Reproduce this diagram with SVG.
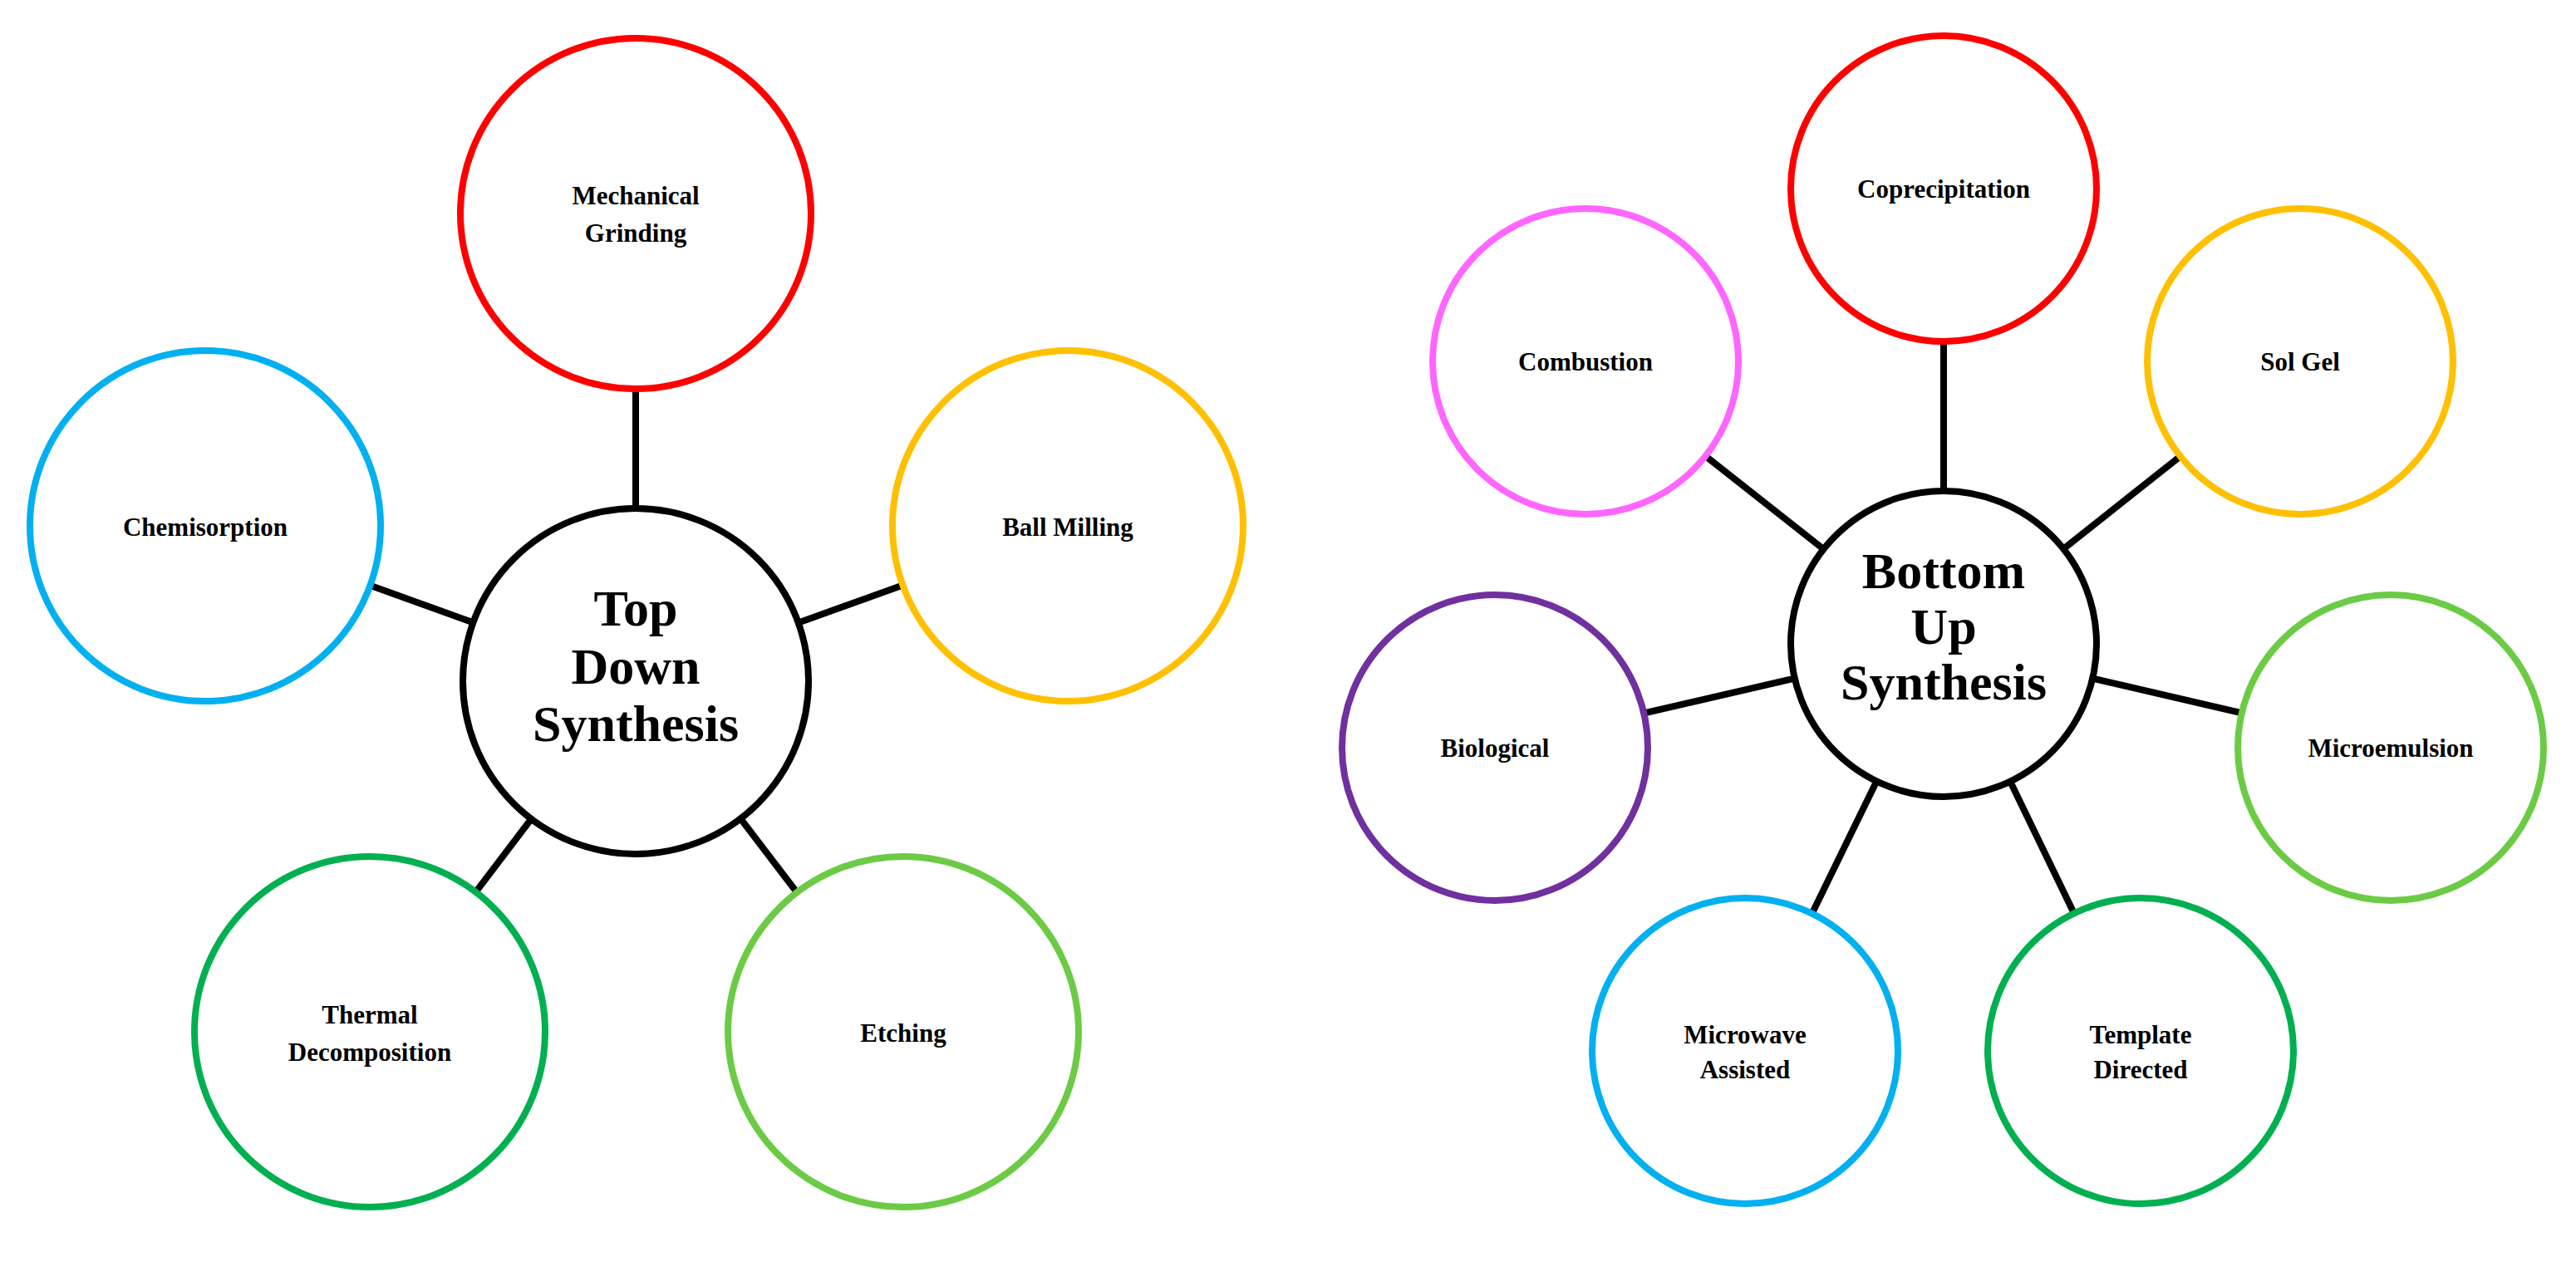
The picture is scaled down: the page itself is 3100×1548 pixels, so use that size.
<svg xmlns="http://www.w3.org/2000/svg" width="3100" height="1548" viewBox="0 0 3100 1548">
<style>
.c{fill:#fff;stroke-width:8}
.ln line{stroke:#000;stroke-width:8}
text{font-family:"Liberation Serif","Times New Roman",serif;font-weight:bold;text-anchor:middle;fill:#000}
.s{font-size:31px}
.b{font-size:62px}
</style>
<rect width="3100" height="1548" fill="#fff"/>
<g class="ln" id="connectors">
<line x1="765" y1="820" x2="765" y2="257"/>
<line x1="765" y1="820" x2="247" y2="633"/>
<line x1="765" y1="820" x2="1285" y2="633"/>
<line x1="765" y1="820" x2="445" y2="1242"/>
<line x1="765" y1="820" x2="1087" y2="1242"/>
<line x1="2339" y1="775" x2="2339" y2="227"/>
<line x1="2339" y1="775" x2="1908" y2="435"/>
<line x1="2339" y1="775" x2="2768" y2="435"/>
<line x1="2339" y1="775" x2="1799" y2="900"/>
<line x1="2339" y1="775" x2="2877" y2="900"/>
<line x1="2339" y1="775" x2="2100" y2="1265"/>
<line x1="2339" y1="775" x2="2576" y2="1265"/>
</g>
<g id="topdown"><circle class="c" cx="765" cy="820" r="208" stroke="#000"/><text class="b" x="765" y="753">Top</text><text class="b" x="765" y="823">Down</text><text class="b" x="765" y="892">Synthesis</text></g>
<g id="mech"><circle class="c" cx="765" cy="257" r="211" stroke="#FF0000"/><text class="s" x="765" y="246">Mechanical</text><text class="s" x="765" y="291">Grinding</text></g>
<g id="chem"><circle class="c" cx="247" cy="633" r="211" stroke="#00B0F0"/><text class="s" x="247" y="645">Chemisorption</text></g>
<g id="ball"><circle class="c" cx="1285" cy="633" r="211" stroke="#FFC000"/><text class="s" x="1285" y="645">Ball Milling</text></g>
<g id="thermal"><circle class="c" cx="445" cy="1242" r="211" stroke="#00B050"/><text class="s" x="445" y="1232">Thermal</text><text class="s" x="445" y="1277">Decomposition</text></g>
<g id="etch"><circle class="c" cx="1087" cy="1242" r="211" stroke="#6CCB45"/><text class="s" x="1087" y="1254">Etching</text></g>
<g id="bottomup"><circle class="c" cx="2339" cy="775" r="184" stroke="#000"/><text class="b" x="2339" y="708">Bottom</text><text class="b" x="2339" y="775">Up</text><text class="b" x="2339" y="842">Synthesis</text></g>
<g id="coprec"><circle class="c" cx="2339" cy="227" r="184" stroke="#FF0000"/><text class="s" x="2339" y="238">Coprecipitation</text></g>
<g id="comb"><circle class="c" cx="1908" cy="435" r="184" stroke="#FF66FF"/><text class="s" x="1908" y="446">Combustion</text></g>
<g id="solgel"><circle class="c" cx="2768" cy="435" r="184" stroke="#FFC000"/><text class="s" x="2768" y="446">Sol Gel</text></g>
<g id="bio"><circle class="c" cx="1799" cy="900" r="184" stroke="#7030A0"/><text class="s" x="1799" y="911">Biological</text></g>
<g id="microem"><circle class="c" cx="2877" cy="900" r="184" stroke="#6CCB45"/><text class="s" x="2877" y="911">Microemulsion</text></g>
<g id="microwave"><circle class="c" cx="2100" cy="1265" r="184" stroke="#00B0F0"/><text class="s" x="2100" y="1256">Microwave</text><text class="s" x="2100" y="1298">Assisted</text></g>
<g id="template"><circle class="c" cx="2576" cy="1265" r="184" stroke="#00B050"/><text class="s" x="2576" y="1256">Template</text><text class="s" x="2576" y="1298">Directed</text></g>
</svg>
